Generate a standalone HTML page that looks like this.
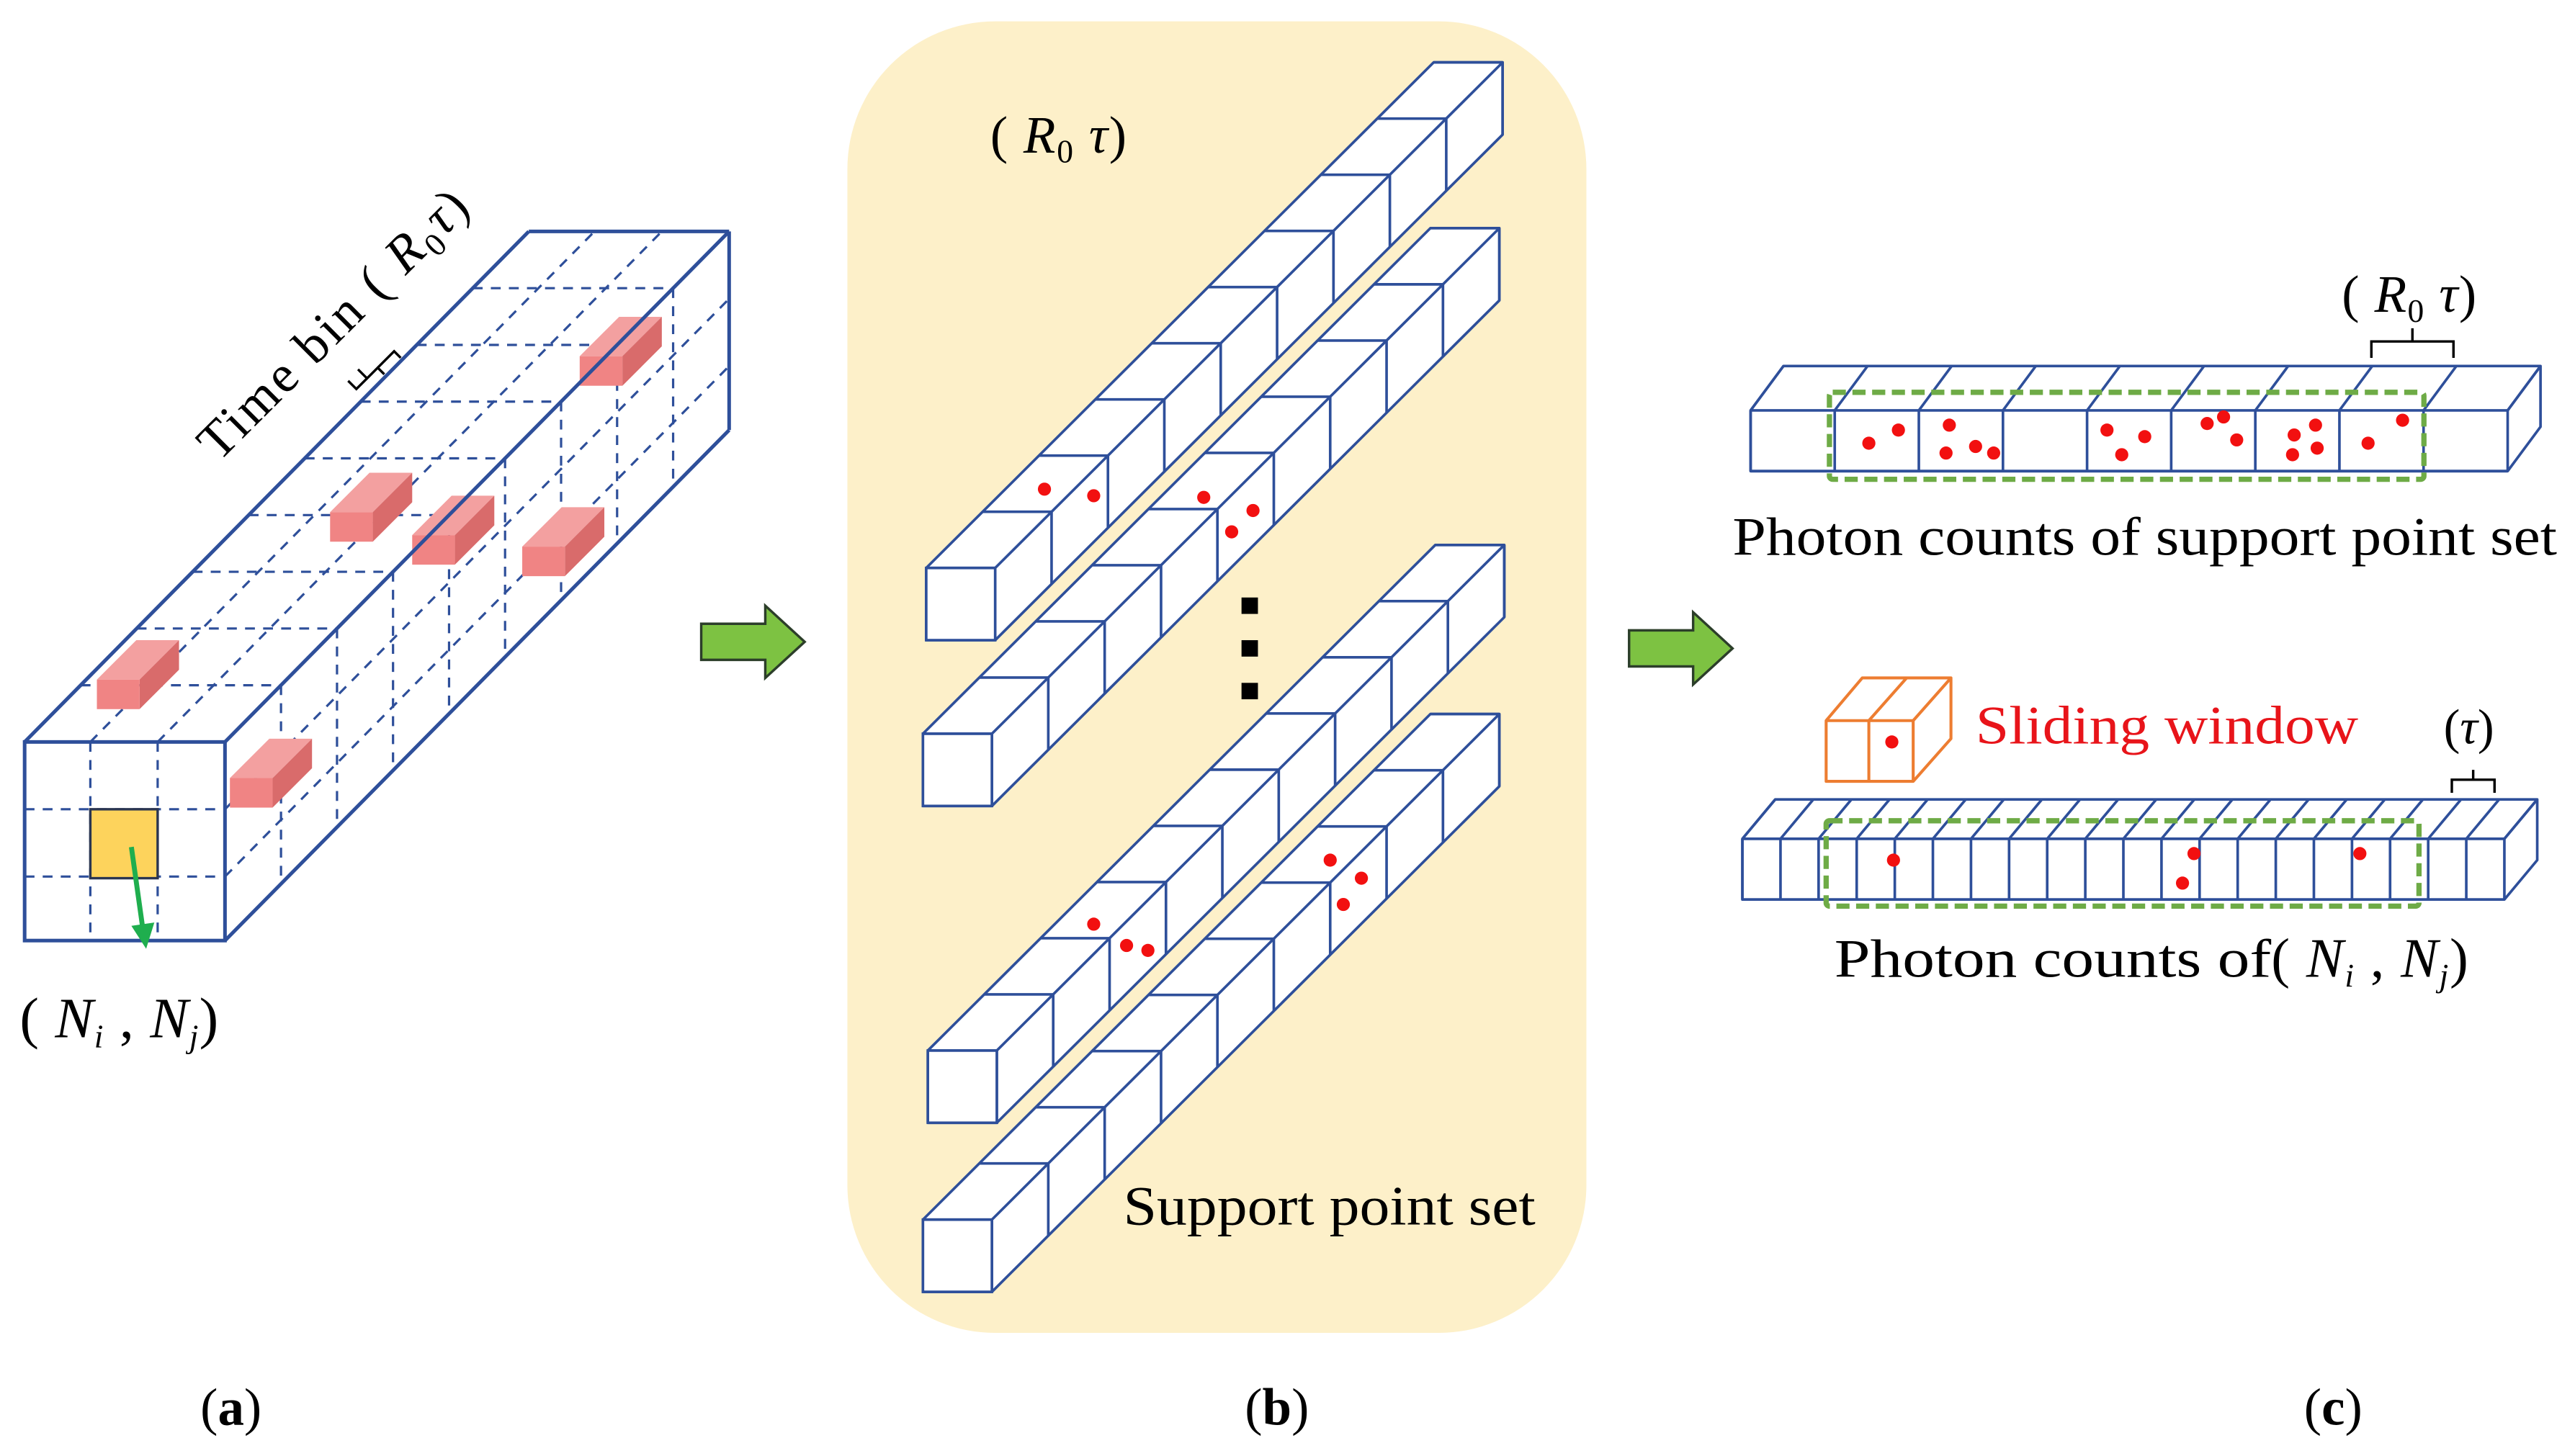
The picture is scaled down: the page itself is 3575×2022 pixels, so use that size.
<!DOCTYPE html>
<html><head><meta charset="utf-8">
<style>
html,body{margin:0;padding:0;background:#fff;}
svg{display:block;}
text{font-family:"Liberation Serif",serif;fill:#000;}
</style></head>
<body>
<svg id="s" xmlns="http://www.w3.org/2000/svg" width="3575" height="2022" viewBox="0 0 1568 887" preserveAspectRatio="none">
<rect x="0" y="0" width="1568" height="887" fill="#fff"/>
<rect x="516" y="13" width="450" height="799" rx="90" ry="90" fill="#fdf0c9"/>
<g id="ga"></g>
<g id="gb"></g>
<g id="gc"></g>

<path d="M427,380 L466,380 L466,369 L490,391 L466,413 L466,402 L427,402 Z" fill="#7dc242" stroke="#2c3e2a" stroke-width="1.5"/>
<path d="M992,384 L1031,384 L1031,373 L1055,395 L1031,417 L1031,406 L992,406 Z" fill="#7dc242" stroke="#2c3e2a" stroke-width="1.5"/>

<text transform="translate(133,282) rotate(-45)" font-size="32" textLength="218" lengthAdjust="spacing">Time bin ( <tspan font-style="italic">R</tspan><tspan font-size="20" dy="6">0</tspan><tspan font-style="italic" dy="-6">τ</tspan>)</text>
<path d="M212,232 L217,237 L230,224 L234,228 M223,230 L218,225 M230,224 L240,214 L244,218" fill="none" stroke="#000" stroke-width="1.5"/>
<text x="12" y="632" font-size="35" textLength="121" lengthAdjust="spacing">( <tspan font-style="italic">N</tspan><tspan font-size="20" font-style="italic" dy="6">i</tspan><tspan dy="-6"> , </tspan><tspan font-style="italic">N</tspan><tspan font-size="20" font-style="italic" dy="6">j</tspan><tspan dy="-6">)</tspan></text>

<text x="603" y="93" font-size="32" textLength="83" lengthAdjust="spacing">( <tspan font-style="italic">R</tspan><tspan font-size="20" dy="6">0</tspan><tspan font-style="italic" dy="-6"> τ</tspan>)</text>
<text x="684" y="746" font-size="34" textLength="251" lengthAdjust="spacingAndGlyphs">Support point set</text>

<text x="1426" y="190" font-size="32" textLength="82" lengthAdjust="spacing">( <tspan font-style="italic">R</tspan><tspan font-size="20" dy="6">0</tspan><tspan font-style="italic" dy="-6"> τ</tspan>)</text>
<path d="M1444,218 L1444,208 L1494,208 L1494,218 M1469,208 L1469,200" fill="none" stroke="#000" stroke-width="1.5"/>
<text x="1055" y="338" font-size="33" textLength="502" lengthAdjust="spacingAndGlyphs">Photon counts of support point set</text>

<text x="1203" y="453" font-size="33" style="fill:#e8141a" textLength="233" lengthAdjust="spacingAndGlyphs">Sliding window</text>
<text x="1488" y="453" font-size="30">(<tspan font-style="italic">τ</tspan>)</text>
<path d="M1493,483 L1493,475 L1519,475 L1519,483 M1506,475 L1506,469" fill="none" stroke="#000" stroke-width="1.5"/>
<text x="1117" y="595" font-size="33" textLength="266" lengthAdjust="spacingAndGlyphs">Photon counts of</text>
<text x="1383" y="595" font-size="34" textLength="120" lengthAdjust="spacing">( <tspan font-style="italic">N</tspan><tspan font-size="20" font-style="italic" dy="6">i</tspan><tspan dy="-6"> , </tspan><tspan font-style="italic">N</tspan><tspan font-size="20" font-style="italic" dy="6">j</tspan><tspan dy="-6">)</tspan></text>

<text x="122" y="868" font-size="32">(<tspan font-weight="bold">a</tspan>)</text>
<text x="758" y="868" font-size="32">(<tspan font-weight="bold">b</tspan>)</text>
<text x="1403" y="868" font-size="32">(<tspan font-weight="bold">c</tspan>)</text>

<rect x="756" y="364" width="10" height="10" fill="#000"/>
<rect x="756" y="390" width="10" height="10" fill="#000"/>
<rect x="756" y="416" width="10" height="10" fill="#000"/>
</svg>
<script>
var NS="http://www.w3.org/2000/svg";
function el(p,t,a){var e=document.createElementNS(NS,t);for(var k in a)e.setAttribute(k,a[k]);p.appendChild(e);return e;}
var B="#2e4f9a";
function line(p,x1,y1,x2,y2,c,w,dash){var a={x1:x1,y1:y1,x2:x2,y2:y2,stroke:c,"stroke-width":w};if(dash)a["stroke-dasharray"]=dash;el(p,"line",a);}
function poly(p,pts,fill,stroke,w){el(p,"polygon",{points:pts.map(function(q){return q.join(",")}).join(" "),fill:fill,stroke:stroke||"none","stroke-width":w||0,"stroke-linejoin":"round"});}
function dot(p,x,y,r){el(p,"circle",{cx:x,cy:y,r:r||4,fill:"#f21010"});}

var ga=document.getElementById("ga");
var x0=15,y0=452,x1=137,y1=573,dx=307,dy=-311,n=9,sx=dx/n,sy=dy/n;
poly(ga,[[x0,y0],[x0+dx,y0+dy],[x1+dx,y0+dy],[x1+dx,y1+dy],[x1,y1],[x0,y1]],"#fff");
var D="6,5";
[55,96].forEach(function(x){line(ga,x,y0,x+dx,y0+dy,B,1.4,D);line(ga,x,y0,x,y1,B,1.4,D);});
[493,534].forEach(function(y){line(ga,x1,y,x1+dx,y+dy,B,1.4,D);line(ga,x0,y,x1,y,B,1.4,D);});
for(var k=1;k<n;k++){line(ga,x0+k*sx,y0+k*sy,x1+k*sx,y0+k*sy,B,1.4,D);line(ga,x1+k*sx,y0+k*sy,x1+k*sx,y1+k*sy,B,1.4,D);}
el(ga,"rect",{x:55,y:493,width:41,height:42,fill:"#fdd35c",stroke:"#2a3550","stroke-width":1.5});
var blocks=[[59,414],[140,474],[201,312],[251,326],[318,333],[353,217]];
blocks.forEach(function(b){var x=b[0],y=b[1],w=26,h=18,ddx=24,ddy=-24;
 poly(ga,[[x,y],[x+ddx,y+ddy],[x+w+ddx,y+ddy],[x+w,y]],"#f3a0a0");
 poly(ga,[[x+w,y],[x+w+ddx,y+ddy],[x+w+ddx,y+h+ddy],[x+w,y+h]],"#d96b6b");
 el(ga,"rect",{x:x,y:y,width:w,height:h,fill:"#f08484"});});
el(ga,"rect",{x:x0,y:y0,width:x1-x0,height:y1-y0,fill:"none",stroke:B,"stroke-width":2.2});
line(ga,x0,y0,x0+dx,y0+dy,B,2.2);line(ga,x1,y0,x1+dx,y0+dy,B,2.2);line(ga,x1,y1,x1+dx,y1+dy,B,2.2);
line(ga,x0+dx,y0+dy,x1+dx,y0+dy,B,2.2);line(ga,x1+dx,y0+dy,x1+dx,y1+dy,B,2.2);
line(ga,80,516,87,566,"#1fae4e",3);
poly(ga,[[80,564],[94,562],[89,578]],"#1fae4e");

var gb=document.getElementById("gb");
function bar(x,y,dots){var w=42,h=44,ddx=309,ddy=-308,m=9,tx=ddx/m,ty=ddy/m;
 poly(gb,[[x,y],[x+ddx,y+ddy],[x+w+ddx,y+ddy],[x+w+ddx,y+h+ddy],[x+w,y+h],[x,y+h]],"#fff",B,1.6);
 line(gb,x+w,y,x+w+ddx,y+ddy,B,1.6);
 for(var k=0;k<=m;k++){line(gb,x+k*tx,y+k*ty,x+w+k*tx,y+k*ty,B,1.6);line(gb,x+w+k*tx,y+k*ty,x+w+k*tx,y+h+k*ty,B,1.6);}
 el(gb,"rect",{x:x,y:y,width:w,height:h,fill:"#fff",stroke:B,"stroke-width":1.6});
 dots.forEach(function(d){dot(gb,d[0],d[1],4);});}
bar(564,346,[[636,298],[666,302]]);
bar(562,447,[[733,303],[763,311],[750,324]]);
bar(565,640,[[666,563],[686,576],[699,579]]);
bar(562,743,[[810,524],[829,535],[818,551]]);

var gc=document.getElementById("gc");
function hbar(x0,y0,x1,y1,ox,oy,m){var cw=(x1-x0)/m;
 poly(gc,[[x0,y0],[x0+ox,y0+oy],[x1+ox,y0+oy],[x1+ox,y1+oy],[x1,y1],[x0,y1]],"#fff",B,1.6);
 line(gc,x1,y0,x1+ox,y0+oy,B,1.6);
 for(var k=0;k<=m;k++){var x=x0+k*cw;line(gc,x,y0,x+ox,y0+oy,B,1.6);line(gc,x,y0,x,y1,B,1.6);}
 line(gc,x0,y0,x1,y0,B,1.6);line(gc,x0,y1,x1,y1,B,1.6);}
hbar(1066,250,1527,287,20,-27,9);
el(gc,"rect",{x:1114,y:239,width:362,height:53,fill:"none",stroke:"#6eab46","stroke-width":3.2,"stroke-dasharray":"8,4",rx:2});
[[1138,270],[1156,262],[1187,259],[1185,276],[1203,272],[1214,276],[1283,262],[1306,266],[1292,277],[1344,258],[1354,254],[1362,268],[1397,265],[1410,259],[1396,277],[1411,273],[1442,270],[1463,256]].forEach(function(d){dot(gc,d[0],d[1],4);});
hbar(1061,511,1525,548,20,-24,20);
el(gc,"rect",{x:1112,y:500,width:361,height:52,fill:"none",stroke:"#6eab46","stroke-width":3.2,"stroke-dasharray":"8,4",rx:2});
[[1153,524],[1336,520],[1329,538],[1437,520]].forEach(function(d){dot(gc,d[0],d[1],4);});
var O="#ed7d31";
poly(gc,[[1112,439],[1134,413],[1188,413],[1188,450],[1165,476],[1112,476]],"#fff",O,1.8);
line(gc,1112,439,1165,439,O,1.8);line(gc,1165,439,1188,413,O,1.8);line(gc,1165,439,1165,476,O,1.8);
line(gc,1138,439,1138,476,O,1.8);line(gc,1138,439,1161,413,O,1.8);
dot(gc,1152,452,4);
</script>
</body></html>
